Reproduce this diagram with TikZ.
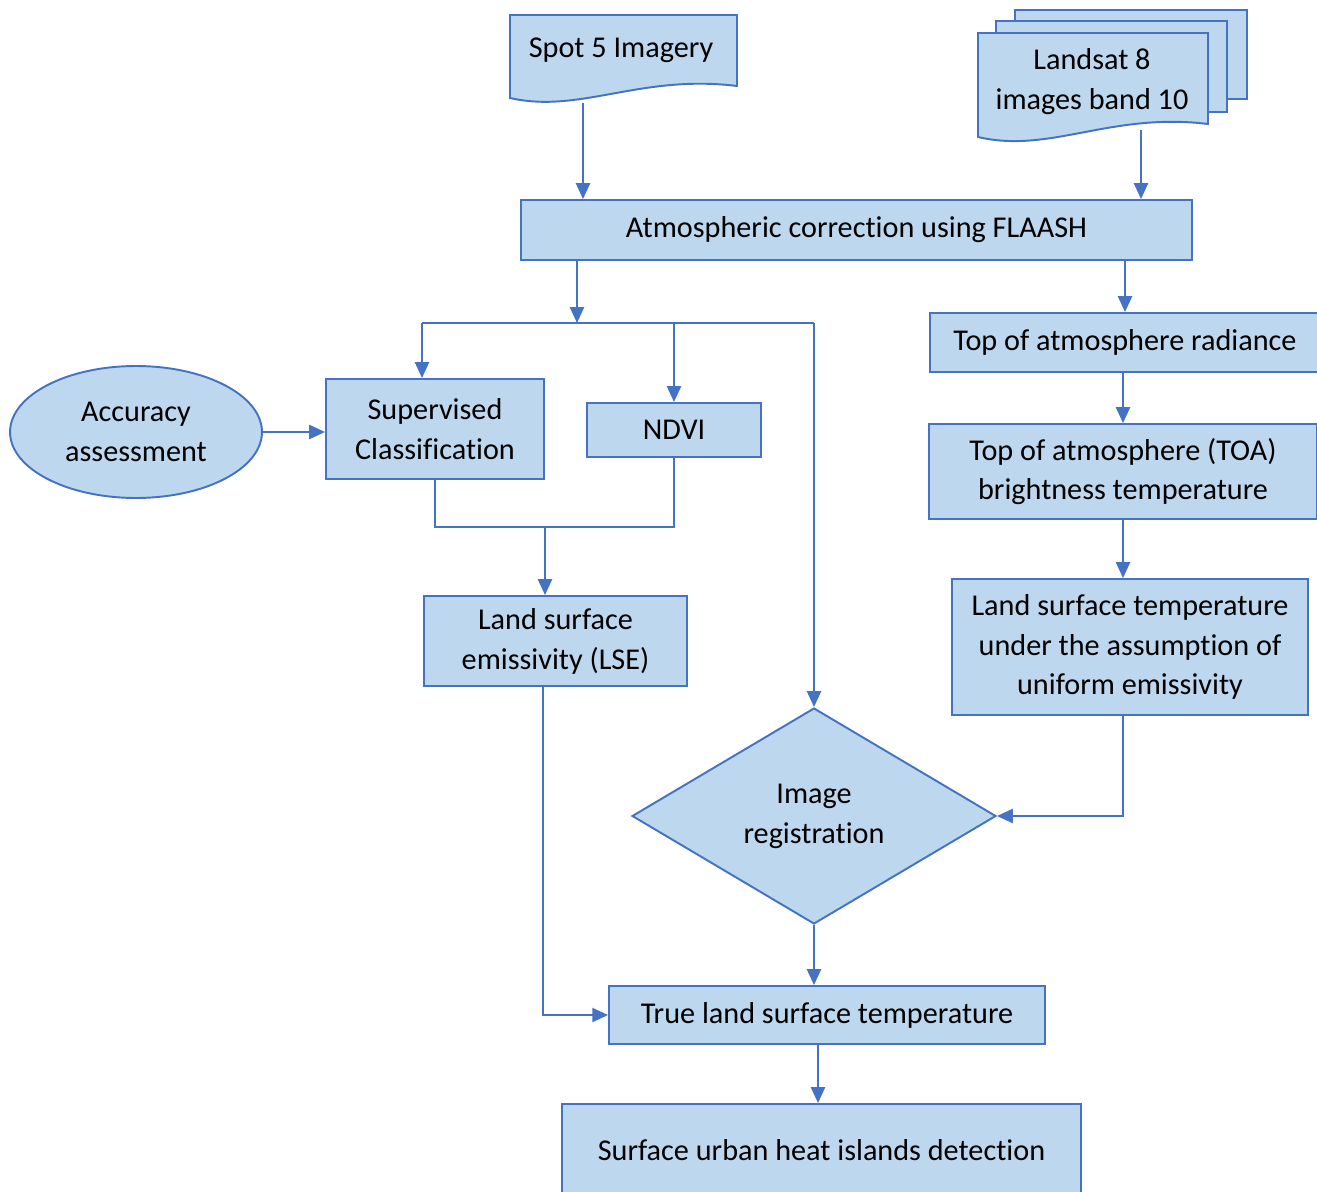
\documentclass[tikz,border=0pt]{standalone}
\usepackage{fontspec}
\setmainfont{Carlito}[Ligatures=NoCommon]
\usetikzlibrary{arrows.meta, shapes.geometric}

\definecolor{boxfill}{HTML}{BDD7EE}
\definecolor{boxline}{HTML}{4472C4}

\tikzset{
  box/.style={draw=boxline, fill=boxfill, line width=1.1pt, align=center,
    font=\fontsize{17.2}{22.7}\selectfont, inner sep=0pt},
  plain/.style={align=center, font=\fontsize{17.2}{22.7}\selectfont, inner sep=0pt},
  page/.style={draw=boxline, fill=boxfill, line width=1.1pt},
  link/.style={draw=boxline, line width=1.1pt},
  arr/.style={link, -{Triangle[length=9pt,width=8pt]}},
}

\begin{document}
\begin{tikzpicture}[x=0.02cm, y=-0.02cm]
    \useasboundingbox (0,0) rectangle (1317,1192);

    % sources (document shapes)
    \draw[page] (510,15) -- (737,15) -- (737,86)
      .. controls (640,74) and (580,114) .. (510,98) -- cycle;
    \node[plain] (spot) at (621,50) {Spot 5 Imagery};

    \draw[page] (1015,10) rectangle (1247,99);
    \draw[page] (996,21) rectangle (1227,112);
    \draw[page] (978,33) -- (1208,33) -- (1208,124)
      .. controls (1110,112) and (1050,154) .. (978,137) -- cycle;
    \node[plain] (land) at (1092,82) {Landsat 8\\images band 10};

    \coordinate (spotout) at (583,103);
    \coordinate (landout) at (1141,130);

    % main boxes
    \node[box, minimum width=13.42cm, minimum height=1.2cm] (atm) at (856.5,230)
      {Atmospheric correction using FLAASH};
    \node[box, minimum width=7.8cm, minimum height=1.18cm] (rad) at (1125,342.5)
      {Top of atmosphere radiance};
    \node[box, minimum width=7.76cm, minimum height=1.9cm] (toa) at (1123,471.5)
      {Top of atmosphere (TOA)\\brightness temperature};
    \node[box, minimum width=7.12cm, minimum height=2.72cm] (lstu) at (1130,647)
      {Land surface temperature\\under the assumption of\\uniform emissivity};

    \node[box, ellipse, minimum width=5.04cm, minimum height=2.64cm] (acc) at (136,432)
      {Accuracy\\assessment};
    \node[box, minimum width=4.36cm, minimum height=2cm] (sup) at (435,429)
      {Supervised\\Classification};
    \node[box, minimum width=3.48cm, minimum height=1.08cm] (ndvi) at (674,430)
      {NDVI};
    \node[box, minimum width=5.26cm, minimum height=1.8cm] (lse) at (555.5,641)
      {Land surface\\emissivity (LSE)};

    \node[box, diamond, minimum width=7.28cm, minimum height=4.32cm] (diam) at (814,816)
      {Image\\registration};
    \node[box, minimum width=8.72cm, minimum height=1.16cm] (tlst) at (827,1015)
      {True land surface temperature};
    \node[box, minimum width=10.38cm, minimum height=1.84cm] (suhi) at (821.5,1150)
      {Surface urban heat islands detection};

    % connectors
    \coordinate (split) at (577,323);
    \coordinate (brL) at (422,323);
    \coordinate (join) at (545,527);
    \coordinate (lsedown) at (543,686);
    \coordinate (tdown) at (818,1044);

    \draw[arr] (spotout) -- (spotout |- atm.north);
    \draw[arr] (landout) -- (landout |- atm.north);
    \draw[arr] (split |- atm.south) -- (split);
    \draw[link] (brL) -- (diam.north |- split);
    \draw[arr] (diam.north |- split) -- (diam.north);
    \draw[arr] (brL) -- (brL |- sup.north);
    \draw[arr] (ndvi.north |- split) -- (ndvi.north);

    \draw[arr] (acc.east) -- (acc.east -| sup.west);
    \draw[link] (sup.south) |- (join) -| (ndvi.south);
    \draw[arr] (join) -- (join |- lse.north);
    \draw[arr] (lsedown) |- (tlst.west);

    \draw[arr] (rad.north |- atm.south) -- (rad.north);
    \draw[arr] (toa.north |- rad.south) -- (toa.north);
    \draw[arr] (toa.south) -- (toa.south |- lstu.north);
    \draw[arr] (lstu.south -| toa.south) |- (diam.east);

    \draw[arr] (diam.south) -- (diam.south |- tlst.north);
    \draw[arr] (tdown) -- (tdown |- suhi.north);

  \end{tikzpicture}
\end{document}
